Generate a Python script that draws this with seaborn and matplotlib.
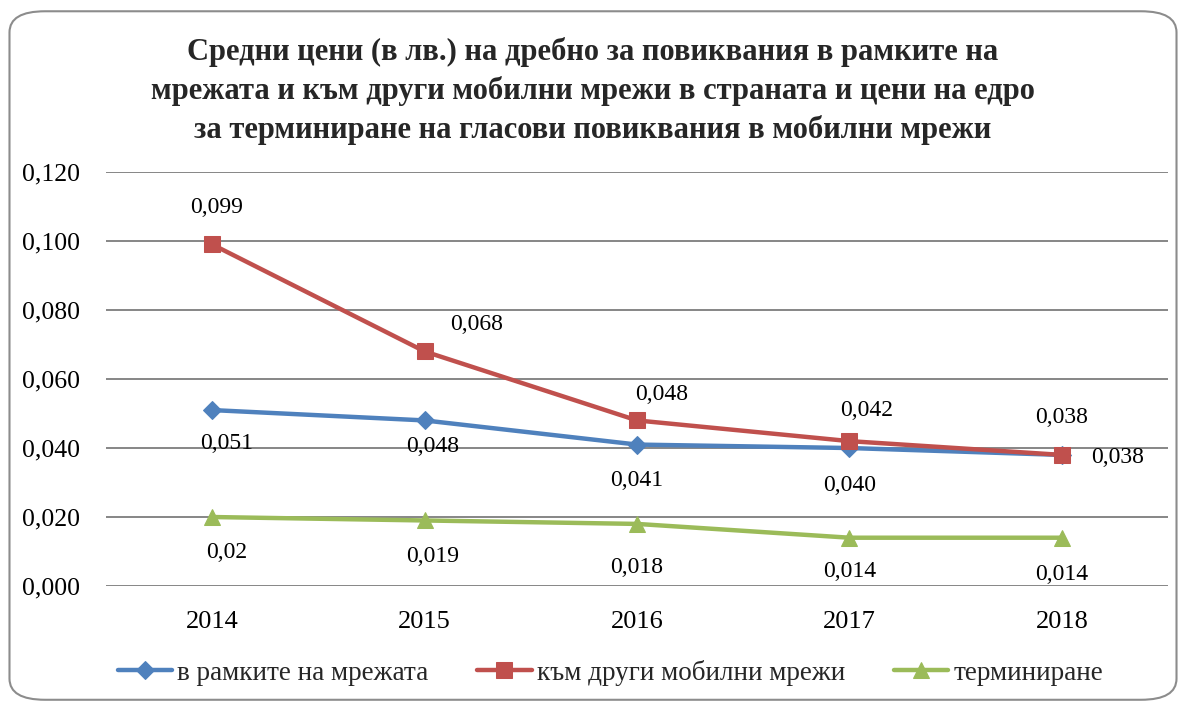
import matplotlib
matplotlib.use("Agg")
import matplotlib.pyplot as plt
from matplotlib.patches import FancyBboxPatch
import seaborn as sns
import pandas as pd

# data
years = ["2014", "2015", "2016", "2017", "2018"]
in_network = [0.051, 0.048, 0.041, 0.040, 0.038]
other_mobile = [0.099, 0.068, 0.048, 0.042, 0.038]
termination = [0.020, 0.019, 0.018, 0.014, 0.014]
series_names = ["в рамките на мрежата", "към други мобилни мрежи", "терминиране"]
label_texts = [
    ["0,051", "0,048", "0,041", "0,040", "0,038"],
    ["0,099", "0,068", "0,048", "0,042", "0,038"],
    ["0,02", "0,019", "0,018", "0,014", "0,014"],
]
title = ("Средни цени (в лв.) на дребно за повиквания в рамките на\n"
         "мрежата и към други мобилни мрежи в страната и цени на едро\n"
         "за терминиране на гласови повиквания в мобилни мрежи")

colors = ["#4F81BD", "#C0504D", "#9BBB59"]
markers = ["D", "s", "^"]
msizes = [9, 11, 12]
# label offsets in pixels (dx, dy) per point
offsets = [
    [(14, -33), (8, -26), (0, -36), (0, -37), (56, -3)],
    [(4, 37), (52, 27), (25, 26), (17, 31), (0, 37)],
    [(14, -35), (8, -36), (0, -44), (0, -34), (0, -37)],
]

sns.set_style("white")
plt.rcParams["font.family"] = ["Liberation Serif", "DejaVu Serif"]

fig = plt.figure(figsize=(11.86, 7.04), dpi=100)
ax = fig.add_axes([0.0894, 0.1676, 0.8955, 0.588])

df = pd.DataFrame({"x": range(len(years))})
for name, vals, c, m, ms, labs, offs in zip(
        series_names, [in_network, other_mobile, termination], colors,
        markers, msizes, label_texts, offsets):
    sns.lineplot(x=df["x"], y=vals, ax=ax, color=c, linewidth=3.2,
                 marker=m, markersize=ms, markeredgecolor=c, label=name)
    for i, (v, t) in enumerate(zip(vals, labs)):
        ax.annotate(t, (i, v), xytext=offs[i], textcoords="offset pixels",
                    ha="center", va="center", fontsize=17, color="black")

ax.set_xlim(-0.5, len(years) - 0.5)
ax.set_ylim(0, 0.12)
ax.set_yticks([0, 0.02, 0.04, 0.06, 0.08, 0.10, 0.12])
ax.set_yticklabels([f"{t:.3f}".replace(".", ",") for t in ax.get_yticks()])
ax.set_xticks(range(len(years)))
ax.set_xticklabels(years)
ax.tick_params(axis="both", length=0, colors="black")
ax.tick_params(axis="x", pad=18, labelsize=19)
ax.tick_params(axis="y", pad=19, labelsize=18.5)
ax.grid(axis="y", color="#868686", linewidth=1.4)
ax.set_axisbelow(True)
for s in ax.spines.values():
    s.set_visible(False)
ax.set_xlabel("")
ax.set_ylabel("")

fig.text(0.5, 0.871, title, ha="center", va="center", fontsize=22,
         fontweight="bold", linespacing=1.4)

ax.legend(loc="center", bbox_to_anchor=(0.475, -0.21), ncol=3, frameon=False,
          fontsize=19.5, handlelength=2.0, handletextpad=0.2, columnspacing=1.8)

border = FancyBboxPatch((0.008, 0.006), 0.984, 0.978, transform=fig.transFigure,
                        boxstyle="round,pad=0,rounding_size=0.03",
                        facecolor="none", edgecolor="#8c8c8c", linewidth=1.5)
fig.patches.append(border)

fig.savefig("out.png", dpi=100)
